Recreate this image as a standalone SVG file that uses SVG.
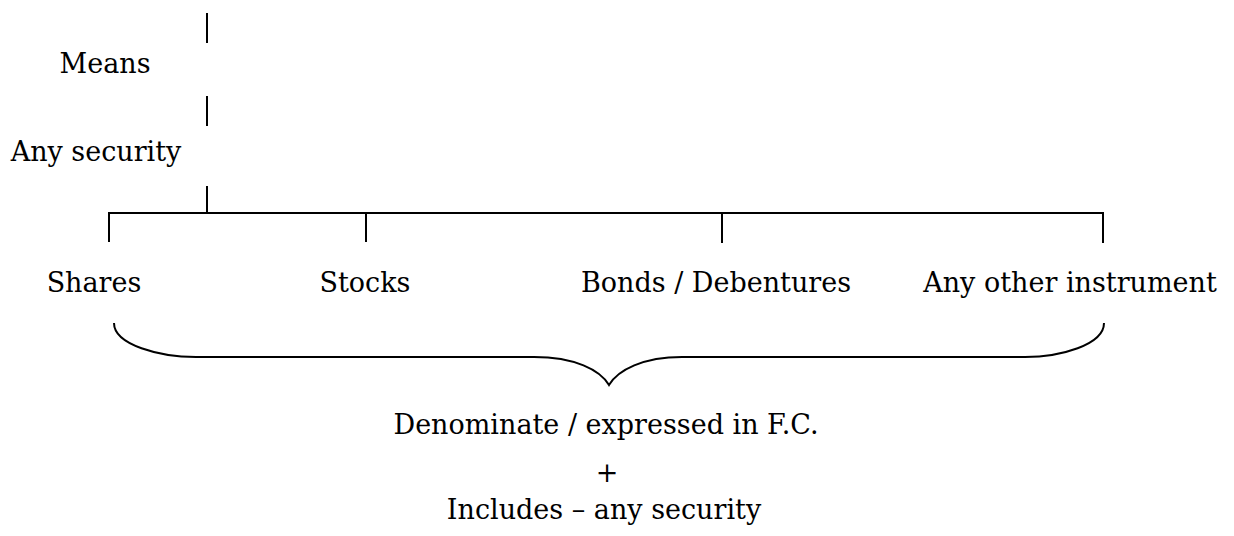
<svg xmlns="http://www.w3.org/2000/svg" width="1234" height="536" viewBox="0 0 1234 536">
  <style>
    .bg { fill: #ffffff; }
    .ln { stroke: #000000; stroke-width: 2; fill: none; }
    .brace { stroke: #000000; stroke-width: 2; fill: none; stroke-linejoin: miter; }
    .lbl { font-family: "DejaVu Serif", "Liberation Serif", serif; font-size: 27px; fill: #000000; }
  </style>
  <rect class="bg" x="0" y="0" width="1234" height="536"/>

  <!-- connectors: dashed stem, bracket bar and drop ticks, brace -->
  <g id="connectors">
    <line class="ln" x1="207" y1="13" x2="207" y2="43"/>
    <line class="ln" x1="207" y1="96" x2="207" y2="126"/>
    <line class="ln" x1="207" y1="186" x2="207" y2="213"/>
    <line class="ln" x1="108" y1="213" x2="1104" y2="213"/>
    <line class="ln" x1="109" y1="212" x2="109" y2="242"/>
    <line class="ln" x1="366" y1="213" x2="366" y2="242"/>
    <line class="ln" x1="722" y1="213" x2="722" y2="243"/>
    <line class="ln" x1="1103" y1="212" x2="1103" y2="243"/>
    <path class="brace" d="M114,323 C114,345 160,357 196,357 L534,357 C575,357 600,370 609,385 C618,370 643,357 682,357 L1025,357 C1060,357 1104,345 1104,323"/>
  </g>

  <g id="node-means">
    <text class="lbl" x="105" y="73" text-anchor="middle">Means</text>
  </g>
  <g id="node-any-security">
    <text class="lbl" x="96" y="161" text-anchor="middle">Any security</text>
  </g>
  <g id="node-shares">
    <text class="lbl" x="94" y="292" text-anchor="middle">Shares</text>
  </g>
  <g id="node-stocks">
    <text class="lbl" x="365" y="292" text-anchor="middle">Stocks</text>
  </g>
  <g id="node-bonds">
    <text class="lbl" x="716" y="292" text-anchor="middle">Bonds / Debentures</text>
  </g>
  <g id="node-other">
    <text class="lbl" x="1070" y="292" text-anchor="middle">Any other instrument</text>
  </g>
  <g id="node-denominate">
    <text class="lbl" x="606" y="434" text-anchor="middle">Denominate / expressed in F.C.</text>
  </g>
  <g id="node-plus">
    <text class="lbl" x="607" y="482" text-anchor="middle">+</text>
  </g>
  <g id="node-includes">
    <text class="lbl" x="604" y="519" text-anchor="middle">Includes – any security</text>
  </g>
</svg>
